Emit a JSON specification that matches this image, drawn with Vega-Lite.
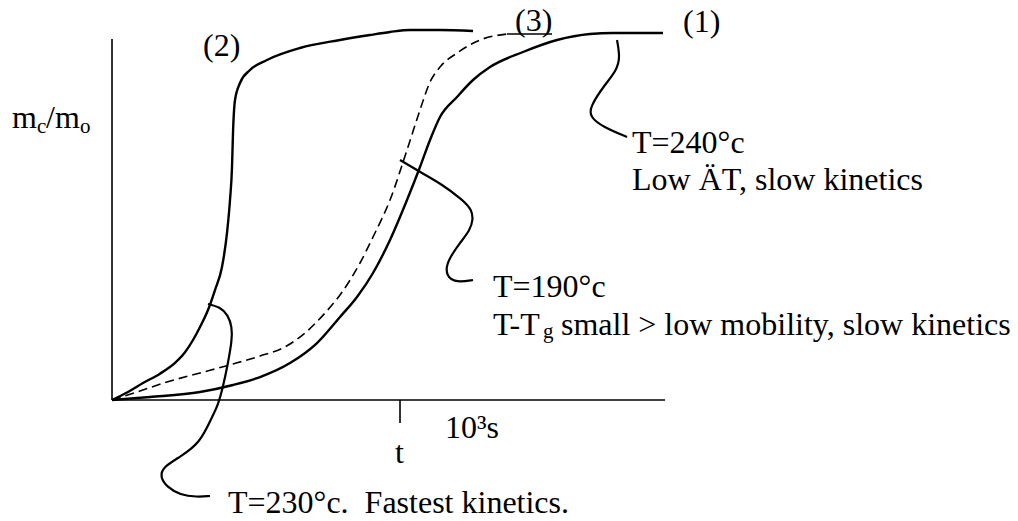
{
  "$schema": "https://vega.github.io/schema/vega-lite/v6.json",
  "width": 1018,
  "height": 521,
  "autosize": {"type": "fit", "contains": "padding"},
  "padding": 0,
  "background": "white",
  "config": {"view": {"stroke": null}},
  "datasets": {
    "frame": [
      {"t": 0, "m": 0, "t2": 0, "m2": 0.9863},
      {"t": 0, "m": 0, "t2": 1.9201, "m2": 0},
      {"t": 1, "m": 0, "t2": 1, "m2": -0.0628},
      {"t": 1.3715, "m": 1.0, "t2": 1.5278, "m2": 1.0}
    ],
    "curves": [
      {"s": "1", "i": 0, "t": 0, "m": 0},
      {"s": "1", "i": 1, "t": 0.1319, "m": 0.0082},
      {"s": "1", "i": 2, "t": 0.3056, "m": 0.0219},
      {"s": "1", "i": 3, "t": 0.4201, "m": 0.041},
      {"s": "1", "i": 4, "t": 0.5139, "m": 0.0628},
      {"s": "1", "i": 5, "t": 0.6181, "m": 0.1011},
      {"s": "1", "i": 6, "t": 0.7118, "m": 0.1557},
      {"s": "1", "i": 7, "t": 0.7917, "m": 0.2268},
      {"s": "1", "i": 8, "t": 0.8507, "m": 0.2814},
      {"s": "1", "i": 9, "t": 0.9063, "m": 0.347},
      {"s": "1", "i": 10, "t": 0.9653, "m": 0.4372},
      {"s": "1", "i": 11, "t": 1.0243, "m": 0.5464},
      {"s": "1", "i": 12, "t": 1.0694, "m": 0.6366},
      {"s": "1", "i": 13, "t": 1.1042, "m": 0.7104},
      {"s": "1", "i": 14, "t": 1.1389, "m": 0.7732},
      {"s": "1", "i": 15, "t": 1.1979, "m": 0.8279},
      {"s": "1", "i": 16, "t": 1.2535, "m": 0.8743},
      {"s": "1", "i": 17, "t": 1.3125, "m": 0.9098},
      {"s": "1", "i": 18, "t": 1.4271, "m": 0.9508},
      {"s": "1", "i": 19, "t": 1.5451, "m": 0.9836},
      {"s": "1", "i": 20, "t": 1.6597, "m": 1.0},
      {"s": "1", "i": 21, "t": 1.7396, "m": 1.0027},
      {"s": "1", "i": 22, "t": 1.9132, "m": 1.0027},
      {"s": "2", "i": 0, "t": 0, "m": 0},
      {"s": "2", "i": 1, "t": 0.0556, "m": 0.0219},
      {"s": "2", "i": 2, "t": 0.1076, "m": 0.0464},
      {"s": "2", "i": 3, "t": 0.1667, "m": 0.072},
      {"s": "2", "i": 4, "t": 0.2188, "m": 0.1014},
      {"s": "2", "i": 5, "t": 0.2535, "m": 0.1304},
      {"s": "2", "i": 6, "t": 0.2813, "m": 0.1639},
      {"s": "2", "i": 7, "t": 0.3056, "m": 0.1995},
      {"s": "2", "i": 8, "t": 0.3333, "m": 0.2459},
      {"s": "2", "i": 9, "t": 0.3576, "m": 0.3005},
      {"s": "2", "i": 10, "t": 0.3819, "m": 0.3634},
      {"s": "2", "i": 11, "t": 0.3993, "m": 0.4563},
      {"s": "2", "i": 12, "t": 0.4097, "m": 0.5464},
      {"s": "2", "i": 13, "t": 0.4167, "m": 0.6366},
      {"s": "2", "i": 14, "t": 0.4201, "m": 0.7295},
      {"s": "2", "i": 15, "t": 0.4271, "m": 0.8197},
      {"s": "2", "i": 16, "t": 0.4444, "m": 0.8661},
      {"s": "2", "i": 17, "t": 0.4792, "m": 0.9016},
      {"s": "2", "i": 18, "t": 0.5382, "m": 0.929},
      {"s": "2", "i": 19, "t": 0.6528, "m": 0.9617},
      {"s": "2", "i": 20, "t": 0.7917, "m": 0.9836},
      {"s": "2", "i": 21, "t": 0.8958, "m": 0.9973},
      {"s": "2", "i": 22, "t": 0.9653, "m": 1.0055},
      {"s": "2", "i": 23, "t": 1.0347, "m": 1.0109},
      {"s": "2", "i": 24, "t": 1.1389, "m": 1.0109},
      {"s": "2", "i": 25, "t": 1.2535, "m": 1.0082},
      {"s": "3", "i": 0, "t": 0, "m": 0},
      {"s": "3", "i": 1, "t": 0.0972, "m": 0.0246},
      {"s": "3", "i": 2, "t": 0.191, "m": 0.0492},
      {"s": "3", "i": 3, "t": 0.3056, "m": 0.0738},
      {"s": "3", "i": 4, "t": 0.4201, "m": 0.0984},
      {"s": "3", "i": 5, "t": 0.5139, "m": 0.1202},
      {"s": "3", "i": 6, "t": 0.5938, "m": 0.1421},
      {"s": "3", "i": 7, "t": 0.6701, "m": 0.1831},
      {"s": "3", "i": 8, "t": 0.7396, "m": 0.2377},
      {"s": "3", "i": 9, "t": 0.7917, "m": 0.2869},
      {"s": "3", "i": 10, "t": 0.8611, "m": 0.3743},
      {"s": "3", "i": 11, "t": 0.9063, "m": 0.4454},
      {"s": "3", "i": 12, "t": 0.9653, "m": 0.5464},
      {"s": "3", "i": 13, "t": 1.0243, "m": 0.6831},
      {"s": "3", "i": 14, "t": 1.0694, "m": 0.7923},
      {"s": "3", "i": 15, "t": 1.1042, "m": 0.8689},
      {"s": "3", "i": 16, "t": 1.1389, "m": 0.9098},
      {"s": "3", "i": 17, "t": 1.1979, "m": 0.9481},
      {"s": "3", "i": 18, "t": 1.2778, "m": 0.9836},
      {"s": "3", "i": 19, "t": 1.3715, "m": 1.0}
    ],
    "leaders": [
      {"s": "240", "i": 0, "t": 1.7535, "m": 0.9836},
      {"s": "240", "i": 1, "t": 1.7639, "m": 0.9372},
      {"s": "240", "i": 2, "t": 1.7535, "m": 0.9016},
      {"s": "240", "i": 3, "t": 1.7049, "m": 0.8552},
      {"s": "240", "i": 4, "t": 1.6597, "m": 0.8005},
      {"s": "240", "i": 5, "t": 1.6597, "m": 0.7732},
      {"s": "240", "i": 6, "t": 1.7049, "m": 0.7459},
      {"s": "240", "i": 7, "t": 1.7882, "m": 0.7186},
      {"s": "190", "i": 0, "t": 1.0, "m": 0.6557},
      {"s": "190", "i": 1, "t": 1.0694, "m": 0.623},
      {"s": "190", "i": 2, "t": 1.1389, "m": 0.5929},
      {"s": "190", "i": 3, "t": 1.2188, "m": 0.5464},
      {"s": "190", "i": 4, "t": 1.25, "m": 0.5191},
      {"s": "190", "i": 5, "t": 1.2535, "m": 0.4918},
      {"s": "190", "i": 6, "t": 1.2431, "m": 0.4645},
      {"s": "190", "i": 7, "t": 1.2083, "m": 0.429},
      {"s": "190", "i": 8, "t": 1.1736, "m": 0.3907},
      {"s": "190", "i": 9, "t": 1.1563, "m": 0.3552},
      {"s": "190", "i": 10, "t": 1.1736, "m": 0.3279},
      {"s": "190", "i": 11, "t": 1.2083, "m": 0.3224},
      {"s": "190", "i": 12, "t": 1.2535, "m": 0.3279},
      {"s": "230", "i": 0, "t": 0.3333, "m": 0.2623},
      {"s": "230", "i": 1, "t": 0.375, "m": 0.2541},
      {"s": "230", "i": 2, "t": 0.4028, "m": 0.2322},
      {"s": "230", "i": 3, "t": 0.4167, "m": 0.1995},
      {"s": "230", "i": 4, "t": 0.4167, "m": 0.1639},
      {"s": "230", "i": 5, "t": 0.4028, "m": 0.1011},
      {"s": "230", "i": 6, "t": 0.3854, "m": 0.0355},
      {"s": "230", "i": 7, "t": 0.3681, "m": -0.0137},
      {"s": "230", "i": 8, "t": 0.3472, "m": -0.0464},
      {"s": "230", "i": 9, "t": 0.3056, "m": -0.1175},
      {"s": "230", "i": 10, "t": 0.2361, "m": -0.1557},
      {"s": "230", "i": 11, "t": 0.1771, "m": -0.1831},
      {"s": "230", "i": 12, "t": 0.1667, "m": -0.2104},
      {"s": "230", "i": 13, "t": 0.191, "m": -0.2377},
      {"s": "230", "i": 14, "t": 0.2361, "m": -0.2596},
      {"s": "230", "i": 15, "t": 0.2951, "m": -0.265},
      {"s": "230", "i": 16, "t": 0.3403, "m": -0.2623}
    ],
    "labels": [
      {"t": 0.316, "m": 0.9399, "text": "(2)"},
      {"t": 1.3993, "m": 1.0082, "text": "(3)"},
      {"t": 1.9826, "m": 1.0055, "text": "(1)"},
      {"t": 1.8056, "m": 0.6749, "text": "T=240°c"},
      {"t": 1.8056, "m": 0.5738, "text": "Low ÄT, slow kinetics"},
      {"t": 1.3229, "m": 0.2814, "text": "T=190°c"},
      {"t": 1.3229, "m": 0.1776, "text": "T-T"},
      {"t": 1.559, "m": 0.1776, "text": "small > low mobility, slow kinetics"},
      {"t": 1.1563, "m": -0.1038, "text": "10³s"},
      {"t": 0.9826, "m": -0.1721, "text": "t"},
      {"t": 0.4028, "m": -0.3087, "text": "T=230°c.\u00a0 Fastest kinetics."},
      {"t": -0.3472, "m": 0.7432, "text": "m"},
      {"t": -0.2292, "m": 0.7432, "text": "/m"}
    ],
    "subscripts": [
      {"t": 1.4965, "m": 0.1694, "text": "g"},
      {"t": -0.2604, "m": 0.7295, "text": "c"},
      {"t": -0.1111, "m": 0.7295, "text": "o"}
    ]
  },
  "encoding": {
    "x": {"field": "t", "type": "quantitative", "scale": {"domain": [-0.3889, 3.1458], "nice": false, "zero": false}, "axis": null},
    "y": {"field": "m", "type": "quantitative", "scale": {"domain": [-0.3306, 1.0929], "nice": false, "zero": false}, "axis": null}
  },
  "layer": [
    {
      "data": {"name": "frame"},
      "mark": {"type": "rule", "color": "black", "strokeWidth": 1.6},
      "encoding": {"x2": {"field": "t2"}, "y2": {"field": "m2"}}
    },
    {
      "data": {"name": "curves"},
      "transform": [{"filter": "datum.s !== '3'"}],
      "mark": {"type": "line", "color": "black", "strokeWidth": 2.4, "interpolate": "monotone"},
      "encoding": {"detail": {"field": "s"}, "order": {"field": "i"}}
    },
    {
      "data": {"name": "curves"},
      "transform": [{"filter": "datum.s === '3'"}],
      "mark": {"type": "line", "color": "black", "strokeWidth": 1.6, "strokeDash": [9, 5], "interpolate": "monotone"},
      "encoding": {"detail": {"field": "s"}, "order": {"field": "i"}}
    },
    {
      "data": {"name": "leaders"},
      "mark": {"type": "line", "color": "black", "strokeWidth": 2.2, "interpolate": "basis"},
      "encoding": {"detail": {"field": "s"}, "order": {"field": "i"}}
    },
    {
      "data": {"name": "labels"},
      "mark": {"type": "text", "font": "Liberation Serif", "color": "black", "fontSize": 32, "align": "left", "baseline": "alphabetic"},
      "encoding": {"text": {"field": "text"}}
    },
    {
      "data": {"name": "subscripts"},
      "mark": {"type": "text", "font": "Liberation Serif", "color": "black", "fontSize": 21, "align": "left", "baseline": "alphabetic"},
      "encoding": {"text": {"field": "text"}}
    }
  ]
}
